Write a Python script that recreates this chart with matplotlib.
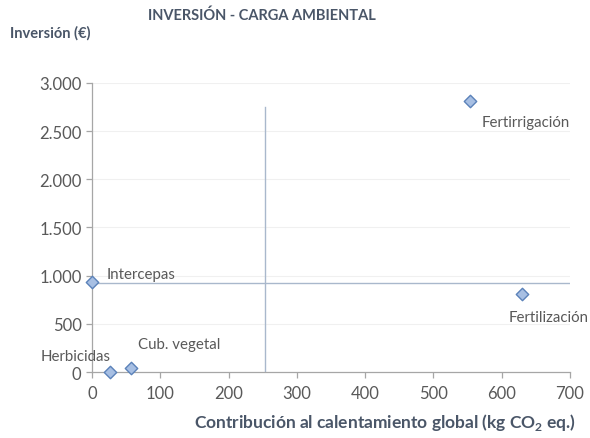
import matplotlib
matplotlib.use("Agg")
import matplotlib.pyplot as plt
from matplotlib.ticker import FuncFormatter

plt.rcParams['font.family'] = ['Lato', 'DejaVu Sans']
plt.rcParams['mathtext.fontset'] = 'custom'
plt.rcParams['mathtext.rm'] = 'Lato'
plt.rcParams['mathtext.bf'] = 'Lato:bold'

labels = ["Intercepas", "Herbicidas", "Cub. vegetal", "Fertirrigación", "Fertilización"]
x_vals = [0, 26, 57, 553, 630]
y_vals = [935, 0, 40, 2814, 810]
x_ticks = [0, 100, 200, 300, 400, 500, 600, 700]
y_ticks = [0, 500, 1000, 1500, 2000, 2500, 3000]
x_mean = sum(x_vals) / len(x_vals)
y_mean = sum(y_vals) / len(y_vals)
v_line_top = 2750

text_c = '#595959'
dark = '#4A5668'
axis_c = '#A6A6A6'

fig = plt.figure(figsize=(5.9, 4.39), dpi=100)
ax = fig.add_axes([0.156, 0.150, 0.810, 0.659])

for yt in y_ticks[1:]:
    ax.axhline(yt, color='#F0F0F0', lw=0.8, zorder=0)

ax.plot([0, 700], [y_mean, y_mean], color='#A9B8CC', lw=1.0, zorder=1)
ax.plot([x_mean, x_mean], [0, v_line_top], color='#A9B8CC', lw=1.0, zorder=1)

ax.scatter(x_vals, y_vals, marker='D', s=40, facecolor='#A7BFE3',
           edgecolor='#5B82B9', linewidth=1.0, zorder=3, clip_on=False)

# label placement (pixel offsets, horizontal alignment)
offsets = {
    "Intercepas": (15, 8, 'left'),
    "Herbicidas": (1, 16, 'right'),
    "Cub. vegetal": (7, 24, 'left'),
    "Fertirrigación": (12, -21, 'left'),
    "Fertilización": (-14, -23, 'left'),
}
for lab, xv, yv in zip(labels, x_vals, y_vals):
    dx, dy, ha = offsets[lab]
    ax.annotate(lab, (xv, yv), xytext=(dx, dy), textcoords='offset pixels',
                ha=ha, va='center', fontsize=10.8, color=text_c)

ax.set_xlim(0, 700)
ax.set_ylim(0, 3000)
ax.set_xticks(x_ticks)
ax.set_yticks(y_ticks)
ax.yaxis.set_major_formatter(FuncFormatter(lambda v, p: f"{int(v):,}".replace(",", ".")))

for s in ['top', 'right']:
    ax.spines[s].set_visible(False)
for s in ['left', 'bottom']:
    ax.spines[s].set_color(axis_c)
    ax.spines[s].set_linewidth(0.9)
ax.tick_params(axis='both', colors=axis_c, labelcolor=text_c, labelsize=12, length=4, width=0.9)
ax.tick_params(axis='x', pad=5)

fig.text(0.444, 0.963, "INVERSIÓN - CARGA AMBIENTAL", ha='center', va='center',
         fontsize=10.5, fontweight='bold', color=dark)
fig.text(0.017, 0.925, "Inversión (€)", ha='left', va='center',
         fontsize=10.5, fontweight='bold', color=dark)
fig.text(0.652, 0.038, r"Contribución al calentamiento global (kg CO$_\mathbf{2}$ eq.)",
         ha='center', va='center', fontsize=12.5, fontweight='bold', color=dark)

fig.savefig("out.png", dpi=100, facecolor='white')
